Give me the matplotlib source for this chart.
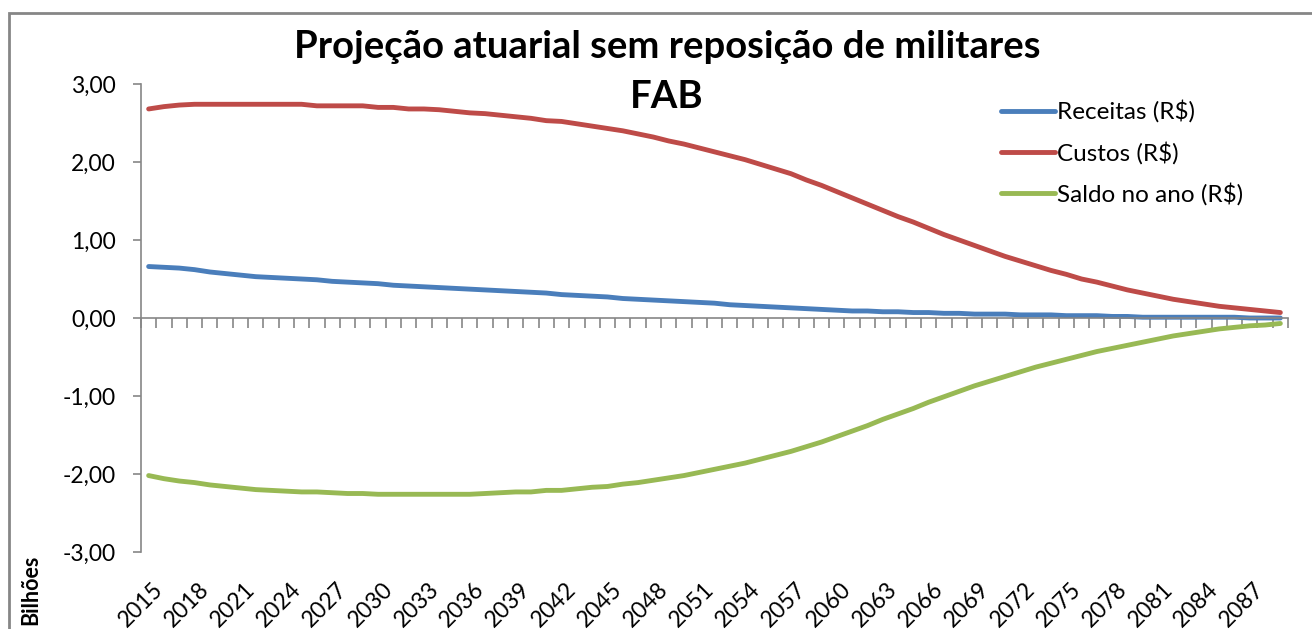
import numpy as np
import matplotlib.pyplot as plt
from matplotlib.patches import Rectangle

plt.rcParams['font.family'] = ['Lato', 'DejaVu Sans']

anos = list(range(2015, 2090))

# valores em bilhões de R$
receitas = [0.66, 0.65, 0.64, 0.62, 0.59, 0.57, 0.55, 0.53, 0.52, 0.51,
            0.50, 0.49, 0.47, 0.46, 0.45, 0.44, 0.42, 0.41, 0.40, 0.39,
            0.38, 0.37, 0.36, 0.35, 0.34, 0.33, 0.32, 0.30, 0.29, 0.28,
            0.27, 0.25, 0.24, 0.23, 0.22, 0.21, 0.20, 0.19, 0.17, 0.16,
            0.15, 0.14, 0.13, 0.12, 0.11, 0.10, 0.09, 0.09, 0.08, 0.08,
            0.07, 0.07, 0.06, 0.06, 0.05, 0.05, 0.05, 0.04, 0.04, 0.04,
            0.03, 0.03, 0.03, 0.02, 0.02, 0.01, 0.01, 0.01, 0.01, 0.01,
            0.01, 0.01, 0.00, 0.00, 0.00]
custos = [2.68, 2.71, 2.73, 2.74, 2.74, 2.74, 2.74, 2.74, 2.74, 2.74,
          2.74, 2.72, 2.72, 2.72, 2.72, 2.70, 2.70, 2.68, 2.68, 2.67,
          2.65, 2.63, 2.62, 2.60, 2.58, 2.56, 2.53, 2.52, 2.49, 2.46,
          2.43, 2.40, 2.36, 2.32, 2.27, 2.23, 2.18, 2.13, 2.08, 2.03,
          1.97, 1.91, 1.85, 1.77, 1.70, 1.62, 1.54, 1.46, 1.38, 1.30,
          1.23, 1.15, 1.07, 1.00, 0.93, 0.86, 0.79, 0.73, 0.67, 0.61,
          0.56, 0.50, 0.46, 0.41, 0.36, 0.32, 0.28, 0.24, 0.21, 0.18,
          0.15, 0.13, 0.11, 0.09, 0.07]
saldo = [-2.02, -2.06, -2.09, -2.11, -2.14, -2.16, -2.18, -2.20, -2.21, -2.22,
         -2.23, -2.23, -2.24, -2.25, -2.25, -2.26, -2.26, -2.26, -2.26, -2.26,
         -2.26, -2.26, -2.25, -2.24, -2.23, -2.23, -2.21, -2.21, -2.19, -2.17,
         -2.16, -2.13, -2.11, -2.08, -2.05, -2.02, -1.98, -1.94, -1.90, -1.86,
         -1.81, -1.76, -1.71, -1.65, -1.59, -1.52, -1.45, -1.38, -1.30, -1.23,
         -1.16, -1.08, -1.01, -0.94, -0.87, -0.81, -0.75, -0.69, -0.63, -0.58,
         -0.53, -0.48, -0.43, -0.39, -0.35, -0.31, -0.27, -0.23, -0.20, -0.17,
         -0.14, -0.12, -0.10, -0.09, -0.07]

series = ['Receitas (R$)', 'Custos (R$)', 'Saldo no ano (R$)']
cores = ['#4A7EBB', '#BE4B48', '#98B954']
y_ticks = [3, 2, 1, 0, -1, -2, -3]

fig = plt.figure(figsize=(13.12, 6.29), dpi=100)
ax = fig.add_axes([141 / 1312, 77 / 629, 1147 / 1312, 468 / 629])

# moldura da área do gráfico (cortada à direita e embaixo)
fig.patches.append(Rectangle((9 / 1312, -0.05), 1.2, (629 - 13) / 629 + 0.05,
                             transform=fig.transFigure, fill=False,
                             edgecolor='#868686', linewidth=2))

x = np.arange(len(anos))
for vals, nome, cor in zip([receitas, custos, saldo], series, cores):
    ax.plot(x, vals, color=cor, linewidth=3.5, label=nome, solid_capstyle='round')

ax.set_xlim(-0.5, len(anos) - 0.5)
ax.set_ylim(-3, 3)

for s in ['top', 'right']:
    ax.spines[s].set_visible(False)
ax.spines['bottom'].set_position(('data', 0))
for s in ['left', 'bottom']:
    ax.spines[s].set_color('#868686')
    ax.spines[s].set_linewidth(1.2)

ax.set_xticks(np.arange(len(anos) + 1) - 0.5)
ax.set_xticklabels([])
ax.tick_params(axis='x', direction='out', length=7, width=1.2, color='#868686')

ax.set_yticks(y_ticks)
ax.set_yticklabels([f'{v:.2f}'.replace('.', ',') for v in y_ticks], fontsize=16.5)
ax.tick_params(axis='y', direction='out', length=6, width=1.2, color='#868686', pad=12)

# rótulos dos anos (a cada 3), abaixo da área do gráfico
for i in range(0, len(anos), 3):
    ax.text(i + 0.25, -0.056, str(anos[i]), transform=ax.get_xaxis_transform(),
            rotation=45, ha='right', va='top', rotation_mode='anchor', fontsize=16.5)

fig.text(667 / 1312, 1 - 47 / 629, 'Projeção atuarial sem reposição de militares',
         ha='center', va='center', fontsize=27.5, fontweight='bold')
fig.text(667 / 1312, 1 - 97 / 629, 'FAB', ha='center', va='center',
         fontsize=27.5, fontweight='bold')

fig.text(31 / 1312, 1 - 590 / 629, 'Bilhões', rotation=90, ha='center', va='center',
         fontsize=15.5, fontweight='bold')

ax.legend(loc='upper left', bbox_to_anchor=(989 / 1312, 1 - 88 / 629),
          bbox_transform=fig.transFigure, frameon=False, fontsize=17.5,
          handlelength=2.2, handletextpad=0.1, labelspacing=0.75, borderpad=0)

fig.savefig('out.png', dpi=100)
